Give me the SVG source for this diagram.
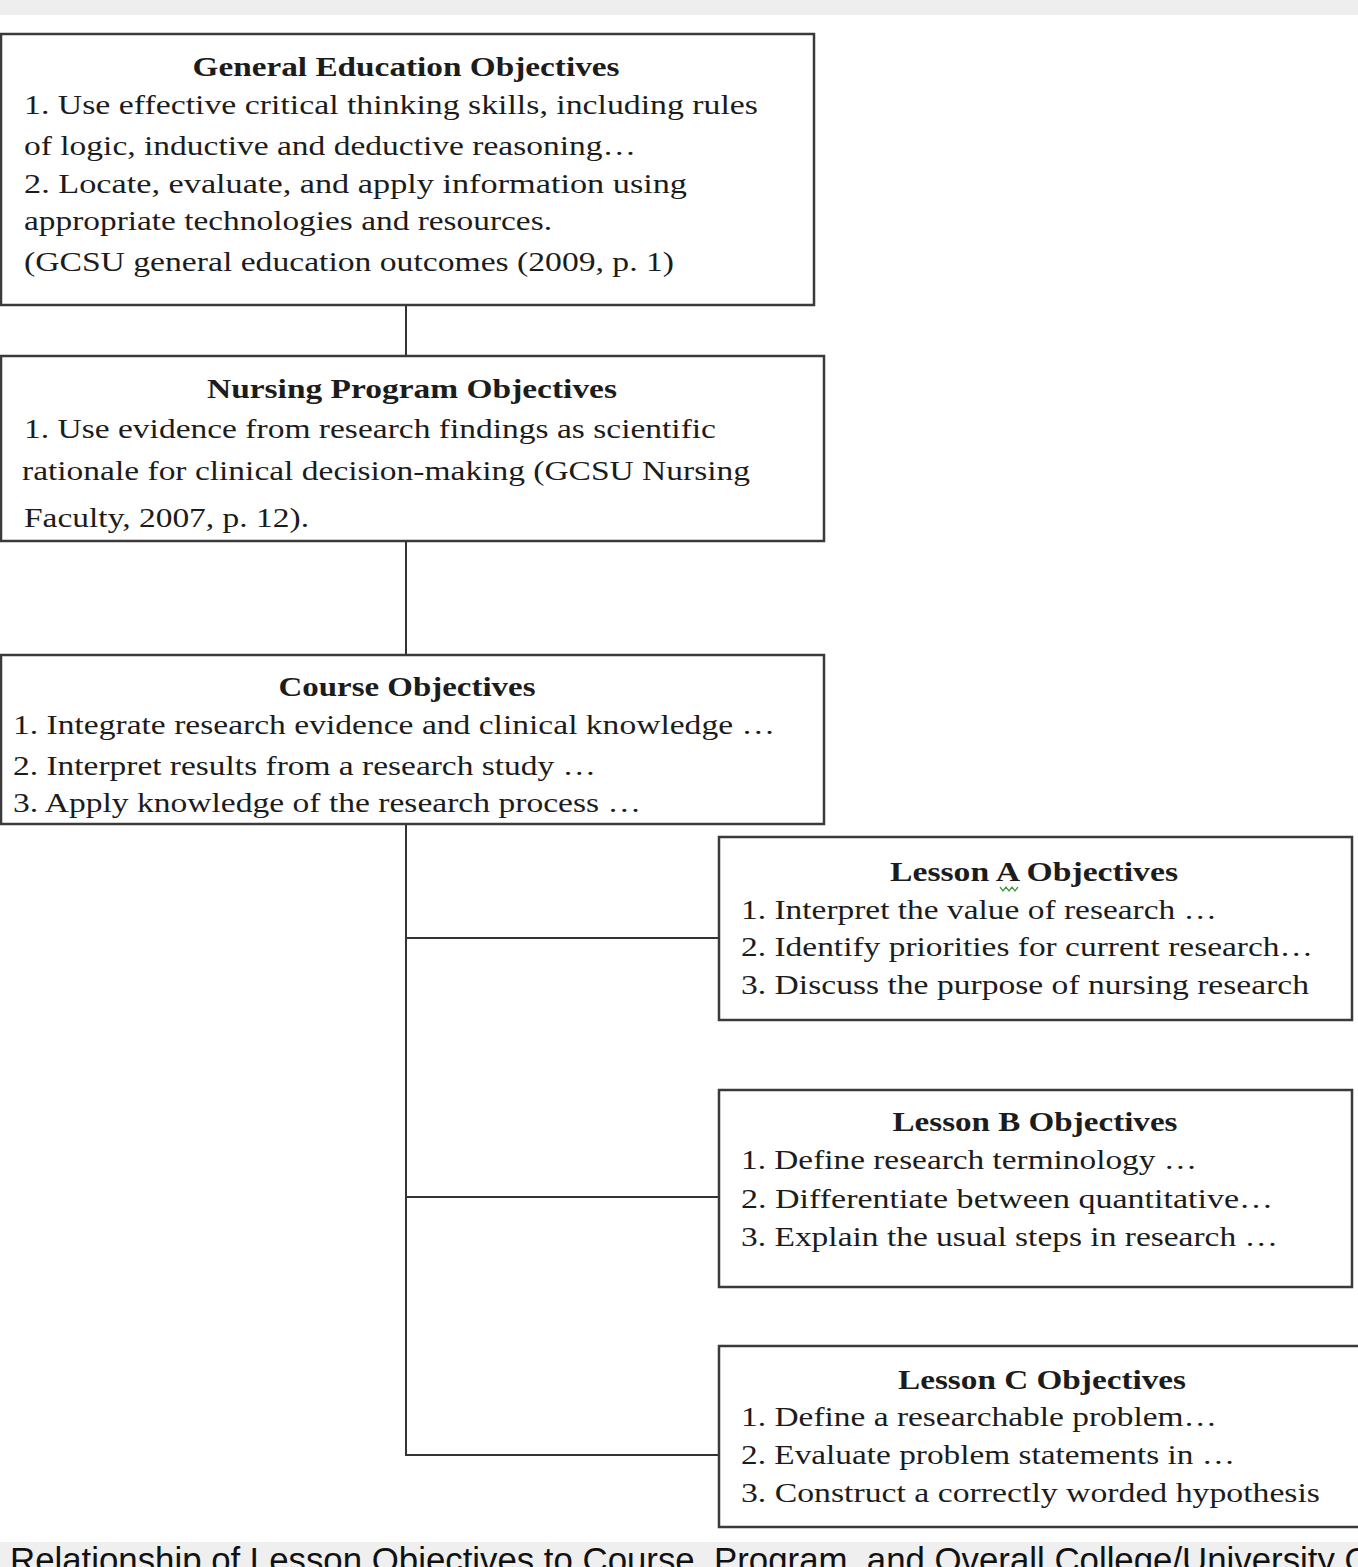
<svg xmlns="http://www.w3.org/2000/svg" width="1358" height="1567" viewBox="0 0 1358 1567">
<style>
.box{fill:#fff;stroke:#3a3a3a;stroke-width:2.5}
.t{font-family:"Liberation Serif","Times New Roman",serif;font-size:28px;fill:#1c1c1c}
.h{font-weight:bold;text-anchor:middle}
.c{stroke:#333;stroke-width:2;fill:none}
.cap{font-family:"Liberation Sans",Arial,sans-serif;font-size:34.8px;fill:#111}
</style>
<defs>
<clipPath id="clip3"><rect x="0" y="655" width="830" height="166"/></clipPath>
</defs>
<rect x="0" y="0" width="1358" height="1567" fill="#fff"/>
<rect x="0" y="0" width="1358" height="15" fill="#eeeeee"/>
<g id="connectors">
<line class="c" x1="406" y1="305" x2="406" y2="356"/>
<line class="c" x1="406" y1="541" x2="406" y2="655"/>
<line class="c" x1="406" y1="824" x2="406" y2="1456"/>
<line class="c" x1="405" y1="938" x2="719" y2="938"/>
<line class="c" x1="405" y1="1197" x2="719" y2="1197"/>
<line class="c" x1="405" y1="1455" x2="719" y2="1455"/>
</g>
<g id="general-education">
<rect class="box" x="1" y="34" width="813" height="271"/>
<text class="t h" x="406" y="76" textLength="427" lengthAdjust="spacingAndGlyphs">General Education Objectives</text>
<text class="t" x="24" y="114" textLength="734" lengthAdjust="spacingAndGlyphs">1.  Use effective critical thinking skills,  including rules</text>
<text class="t" x="24" y="155" textLength="612" lengthAdjust="spacingAndGlyphs">of logic,  inductive and deductive reasoning…</text>
<text class="t" x="24" y="193" textLength="663" lengthAdjust="spacingAndGlyphs">2.  Locate, evaluate, and apply information using</text>
<text class="t" x="24" y="230" textLength="528" lengthAdjust="spacingAndGlyphs">appropriate technologies and resources.</text>
<text class="t" x="24" y="271" textLength="650" lengthAdjust="spacingAndGlyphs">(GCSU general education outcomes (2009, p. 1)</text>
</g>
<g id="nursing-program">
<rect class="box" x="1" y="356" width="823" height="185"/>
<text class="t h" x="412" y="398" textLength="410" lengthAdjust="spacingAndGlyphs">Nursing Program Objectives</text>
<text class="t" x="24" y="438" textLength="692" lengthAdjust="spacingAndGlyphs">1. Use evidence from research findings as scientific</text>
<text class="t" x="22" y="480" textLength="728" lengthAdjust="spacingAndGlyphs">rationale for clinical decision-making (GCSU Nursing</text>
<text class="t" x="24" y="527" textLength="285" lengthAdjust="spacingAndGlyphs">Faculty, 2007, p. 12).</text>
</g>
<g id="course">
<rect class="box" x="1" y="655" width="823" height="169"/>
<text class="t h" x="407" y="696" textLength="257" lengthAdjust="spacingAndGlyphs">Course Objectives</text>
<text class="t" x="13" y="734" textLength="762" lengthAdjust="spacingAndGlyphs">1. Integrate research evidence and clinical knowledge …</text>
<text class="t" x="13" y="775" textLength="583" lengthAdjust="spacingAndGlyphs">2. Interpret results  from a research study …</text>
<text class="t" x="13" y="812" textLength="628" lengthAdjust="spacingAndGlyphs" clip-path="url(#clip3)">3. Apply knowledge  of the research process …</text>
</g>
<g id="lesson-a">
<rect class="box" x="719" y="837" width="633" height="183"/>
<text class="t h" x="1034" y="881" textLength="288" lengthAdjust="spacingAndGlyphs">Lesson A Objectives</text>
<path d="M1000 887 l3 4 l3 -4 l3 4 l3 -4 l3 4 l3 -4" fill="none" stroke="#3c9a3c" stroke-width="1.3"/>
<text class="t" x="741" y="919" textLength="476" lengthAdjust="spacingAndGlyphs">1. Interpret the value of research …</text>
<text class="t" x="741" y="956" textLength="572" lengthAdjust="spacingAndGlyphs">2. Identify priorities  for current research…</text>
<text class="t" x="741" y="994" textLength="568" lengthAdjust="spacingAndGlyphs">3. Discuss  the purpose of nursing research</text>
</g>
<g id="lesson-b">
<rect class="box" x="719" y="1090" width="633" height="197"/>
<text class="t h" x="1035" y="1131" textLength="285" lengthAdjust="spacingAndGlyphs">Lesson B Objectives</text>
<text class="t" x="741" y="1169" textLength="456" lengthAdjust="spacingAndGlyphs">1. Define research terminology …</text>
<text class="t" x="741" y="1208" textLength="532" lengthAdjust="spacingAndGlyphs">2. Differentiate between quantitative…</text>
<text class="t" x="741" y="1246" textLength="537" lengthAdjust="spacingAndGlyphs">3. Explain the usual steps in research …</text>
</g>
<g id="lesson-c">
<rect class="box" x="719" y="1346" width="660" height="181"/>
<text class="t h" x="1042" y="1389" textLength="288" lengthAdjust="spacingAndGlyphs">Lesson C Objectives</text>
<text class="t" x="741" y="1426" textLength="476" lengthAdjust="spacingAndGlyphs">1. Define  a researchable problem…</text>
<text class="t" x="741" y="1464" textLength="494" lengthAdjust="spacingAndGlyphs">2. Evaluate problem statements in …</text>
<text class="t" x="741" y="1502" textLength="579" lengthAdjust="spacingAndGlyphs">3. Construct a correctly  worded hypothesis</text>
</g>
<rect x="0" y="1542" width="1358" height="25" fill="#efefef"/>
<text class="cap" x="10" y="1572">Relationship of Lesson Objectives to Course, Program, and Overall College/University O</text>
</svg>
